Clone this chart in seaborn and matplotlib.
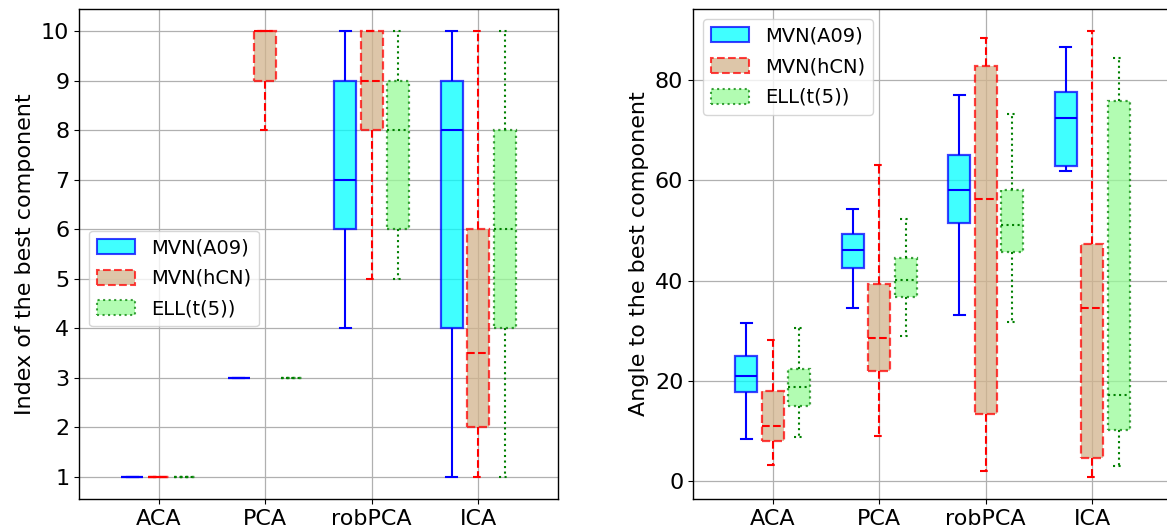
import numpy as np
import pandas as pd
import matplotlib
matplotlib.use("Agg")
import matplotlib.pyplot as plt
import seaborn as sns
from matplotlib.patches import Patch

methods = ["ACA", "PCA", "robPCA", "ICA"]
dists = ["MVN(A09)", "MVN(hCN)", "ELL(t(5))"]

# five-number summaries [min, q1, median, q3, max] per method
index_a09 = [[1, 1, 1, 1, 1], [3, 3, 3, 3, 3], [4, 6, 7, 9, 10], [1, 4, 8, 9, 10]]
index_hcn = [[1, 1, 1, 1, 1], [8, 9, 10, 10, 10], [5, 8, 9, 10, 10], [1, 2, 3.5, 6, 10]]
index_ell = [[1, 1, 1, 1, 1], [3, 3, 3, 3, 3], [5, 6, 8, 9, 10], [1, 4, 6, 8, 10]]

angle_a09 = [[8.3, 17.7, 20.9, 25.0, 31.6], [34.5, 42.6, 46.0, 49.3, 54.3],
             [33.1, 51.5, 58.1, 65.1, 77.0], [61.8, 62.8, 72.5, 77.6, 86.6]]
angle_hcn = [[3.2, 7.9, 11.0, 18.0, 28.1], [9.0, 21.9, 28.5, 39.4, 63.0],
             [2.0, 13.3, 56.2, 82.8, 88.4], [0.8, 4.6, 34.5, 47.3, 89.8]]
angle_ell = [[8.75, 14.9, 18.7, 22.4, 30.6], [28.9, 36.8, 40.1, 44.6, 52.3],
             [31.8, 45.6, 51.0, 58.0, 73.3], [3.0, 10.1, 17.2, 75.8, 84.4]]

face_colors = ["cyan", "tan", "palegreen"]
edge_colors = ["blue", "red", "green"]
line_styles = ["-", "--", ":"]


def to_frame(series_list):
    rows = []
    for dist, series in zip(dists, series_list):
        for method, vals in zip(methods, series):
            for v in vals:
                rows.append({"method": method, "dist": dist, "value": v})
    return pd.DataFrame(rows)


plt.rcParams["font.family"] = ["DejaVu Sans"]
fs = 16
lfs = 14

fig = plt.figure(figsize=(11.67, 5.29), dpi=100)
W, H = 1167, 529
ax1 = fig.add_axes([79 / W, 30 / H, 479 / W, 490 / H])
ax2 = fig.add_axes([693 / W, 30 / H, 479 / W, 490 / H])


def draw(ax, series_list, ylabel):
    df = to_frame(series_list)
    sns.boxplot(data=df, x="method", y="value", hue="dist", order=methods,
                hue_order=dists, palette=dict(zip(dists, face_colors)),
                width=0.75, gap=0.17, whis=(0, 100), saturation=1,
                linewidth=1.5, showfliers=False, legend=False, ax=ax)
    for i, cont in enumerate(ax.containers):
        fc, ec, ls = face_colors[i], edge_colors[i], line_styles[i]
        for b in cont.boxes:
            b.set_facecolor(fc)
            b.set_edgecolor(ec)
            b.set_linestyle(ls)
            b.set_linewidth(1.6)
            b.set_alpha(0.75)
        for group in (cont.whiskers, cont.caps, cont.medians):
            for ln in group:
                ln.set_color(ec)
                ln.set_linestyle(ls)
                ln.set_linewidth(1.5)
    ax.set_xlim(-0.75, 3.75)
    ax.grid(True, color="#b0b0b0", linewidth=0.9)
    ax.set_axisbelow(True)
    ax.set_xlabel("")
    ax.set_ylabel(ylabel, fontsize=fs)
    ax.tick_params(labelsize=fs)
    for s in ax.spines.values():
        s.set_color("black")
        s.set_linewidth(1.0)


draw(ax1, [index_a09, index_hcn, index_ell], "Index of the best component")
ax1.set_yticks(range(1, 11))
draw(ax2, [angle_a09, angle_hcn, angle_ell], "Angle to the best component")
ax2.set_yticks([0, 20, 40, 60, 80])

handles = [Patch(facecolor=fc, edgecolor=ec, linestyle=ls, linewidth=1.5, alpha=0.75, label=d)
           for fc, ec, ls, d in zip(face_colors, edge_colors, line_styles, dists)]
ax1.legend(handles=handles, loc="center left", bbox_to_anchor=(0.0, 0.45),
           fontsize=lfs, handleheight=0.8, labelspacing=0.6)
ax2.legend(handles=handles, loc="upper left", fontsize=lfs,
           handleheight=0.8, labelspacing=0.6)

fig.savefig("out.png", dpi=100)
